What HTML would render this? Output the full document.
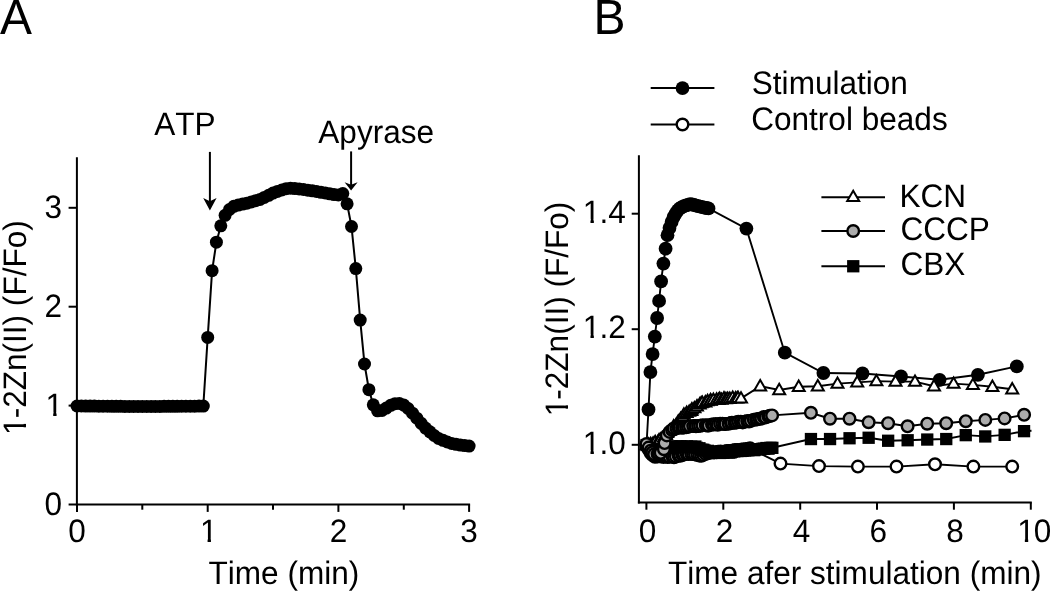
<!DOCTYPE html>
<html lang="en"><head><meta charset="utf-8"><title>Figure</title>
<style>html,body{margin:0;padding:0;background:#fff}body{width:1050px;height:591px;overflow:hidden}svg{display:block}text{font-family:"Liberation Sans",sans-serif;fill:#000;font-kerning:none;text-rendering:geometricPrecision}</style>
</head><body>
<svg width="1050" height="591" viewBox="0 0 1050 591" role="img" aria-label="Two-panel line chart of 1-2Zn(II) fluorescence">
<rect width="1050" height="591" fill="#fff"/>
<!-- Panel A -->
<g transform="translate(0,33.8) scale(0.971,1)"><text x="0.00" y="0" font-size="49.4">A</text>
</g>
<line x1="76.9" y1="157.3" x2="76.9" y2="505.5" stroke="#000" stroke-width="2"/>
<line x1="75.9" y1="504.5" x2="470.1" y2="504.5" stroke="#000" stroke-width="2"/>
<line x1="77" y1="504.5" x2="77" y2="511.9" stroke="#000" stroke-width="2"/>
<g transform="translate(77,542) scale(0.971,1)"><text x="-9.04" y="0" font-size="32.5">0</text>
</g>
<line x1="68.6" y1="504.5" x2="76.9" y2="504.5" stroke="#000" stroke-width="2"/>
<g transform="translate(62.1,514.8) scale(0.971,1)"><text x="-18.07" y="0" font-size="32.5">0</text>
</g>
<line x1="207.7" y1="504.5" x2="207.7" y2="511.9" stroke="#000" stroke-width="2"/>
<g transform="translate(207.7,542) scale(0.971,1)"><text x="-9.04" y="0" font-size="32.5" dx="1.03">1</text>
<rect x="-7.21" y="-3.73" width="7.08" height="4.93" fill="#fff"/>
<rect x="3.34" y="-3.73" width="6.81" height="4.93" fill="#fff"/>
</g>
<line x1="68.6" y1="405.6" x2="76.9" y2="405.6" stroke="#000" stroke-width="2"/>
<g transform="translate(62.1,415.9) scale(0.971,1)"><text x="-18.07" y="0" font-size="32.5" dx="1.03">1</text>
<rect x="-16.25" y="-3.73" width="7.08" height="4.93" fill="#fff"/>
<rect x="-5.70" y="-3.73" width="6.81" height="4.93" fill="#fff"/>
</g>
<line x1="338.4" y1="504.5" x2="338.4" y2="511.9" stroke="#000" stroke-width="2"/>
<g transform="translate(338.4,542) scale(0.971,1)"><text x="-9.04" y="0" font-size="32.5">2</text>
</g>
<line x1="68.6" y1="306.7" x2="76.9" y2="306.7" stroke="#000" stroke-width="2"/>
<g transform="translate(62.1,317) scale(0.971,1)"><text x="-18.07" y="0" font-size="32.5">2</text>
</g>
<line x1="469.1" y1="504.5" x2="469.1" y2="511.9" stroke="#000" stroke-width="2"/>
<g transform="translate(469.1,542) scale(0.971,1)"><text x="-9.04" y="0" font-size="32.5">3</text>
</g>
<line x1="68.6" y1="207.8" x2="76.9" y2="207.8" stroke="#000" stroke-width="2"/>
<g transform="translate(62.1,218.1) scale(0.971,1)"><text x="-18.07" y="0" font-size="32.5">3</text>
</g>
<line x1="142.3" y1="504.5" x2="142.3" y2="509.7" stroke="#000" stroke-width="2"/>
<line x1="273" y1="504.5" x2="273" y2="509.7" stroke="#000" stroke-width="2"/>
<line x1="403.8" y1="504.5" x2="403.8" y2="509.7" stroke="#000" stroke-width="2"/>
<g transform="translate(208.5,583.6) scale(0.971,1)"><text x="0.00" y="0" font-size="32.5">Time (min)</text>
</g>
<g transform="translate(26,328.1) rotate(-90) scale(0.971,1)"><text x="-111.04" y="0" font-size="32.5" dx="1.03 -1.03 0 0 0 0 0 0 0 0 0 0 0 0 0 0">1-2Zn(II) (F/Fo)</text>
<rect x="-109.22" y="-3.73" width="7.08" height="4.93" fill="#fff"/>
<rect x="-98.67" y="-3.73" width="6.81" height="4.93" fill="#fff"/>
</g>
<g transform="translate(154.2,135) scale(0.971,1)"><text x="0.00" y="0" font-size="32.5">ATP</text>
</g>
<g transform="translate(318.3,142.6) scale(0.971,1)"><text x="0.00" y="0" font-size="32.5">Apyrase</text>
</g>
<line x1="209.9" y1="151.9" x2="209.9" y2="201.7" stroke="#000" stroke-width="2"/>
<polygon fill="#000" points="209.9,210.6 203.2,198 209.9,201.2 216.6,198"/>
<line x1="351.1" y1="151.4" x2="351.1" y2="185.2" stroke="#000" stroke-width="2"/>
<polygon fill="#000" points="351.1,190.5 344.6,182.2 351.1,184.7 357.6,182.2"/>
<polyline fill="none" stroke="#000" stroke-width="2" points="77,406 81.4,406 85.7,406.1 90.1,406.1 94.4,406.1 98.8,406.2 103.1,406.2 107.5,406.2 111.9,406.3 116.2,406.3 120.6,406.3 124.9,406.4 129.3,406.4 133.6,406.4 138,406.5 142.3,406.5 146.7,406.5 151.1,406.4 155.4,406.4 159.8,406.4 164.1,406.3 168.5,406.3 172.8,406.3 177.2,406.3 181.6,406.2 185.9,406.2 190.3,406.2 194.6,406.2 199,406.1 203.3,406.1 207.7,337.4 212.1,270.7 216.4,242.2 220.8,225.8 225.1,215.3 229.5,209.5 233.8,206.3 238.2,205.1 242.6,204.1 246.9,203.2 251.3,201.9 255.6,200.7 260,199.4 264.3,197.4 268.7,195.3 273,193.1 277.4,191.4 281.8,190 286.1,188.7 290.5,188.2 294.8,188.6 299.2,189 303.5,189.5 307.9,190.2 312.3,190.8 316.6,191.5 321,192.3 325.3,193 329.7,193.8 334,194.6 338.4,195 342.8,193.5 347.1,203.8 351.5,226.5 355.8,268.6 360.2,320.1 364.5,364 368.9,389.7 373.3,404.8 377.6,410.8 382,410.4 386.3,408.1 390.7,405.3 395,403.7 399.4,403.5 403.8,405.1 408.1,408.5 412.5,413.2 416.8,418.2 421.2,423.3 425.5,428.1 429.9,431.8 434.2,435.5 438.6,438.5 443,440.3 447.3,442 451.7,443.5 456,444.3 460.4,445.1 464.7,445.6 469.1,446.1"/>
<g fill="#000">
<circle cx="77" cy="406" r="6.5"/>
<circle cx="81.4" cy="406" r="6.5"/>
<circle cx="85.7" cy="406.1" r="6.5"/>
<circle cx="90.1" cy="406.1" r="6.5"/>
<circle cx="94.4" cy="406.1" r="6.5"/>
<circle cx="98.8" cy="406.2" r="6.5"/>
<circle cx="103.1" cy="406.2" r="6.5"/>
<circle cx="107.5" cy="406.2" r="6.5"/>
<circle cx="111.9" cy="406.3" r="6.5"/>
<circle cx="116.2" cy="406.3" r="6.5"/>
<circle cx="120.6" cy="406.3" r="6.5"/>
<circle cx="124.9" cy="406.4" r="6.5"/>
<circle cx="129.3" cy="406.4" r="6.5"/>
<circle cx="133.6" cy="406.4" r="6.5"/>
<circle cx="138" cy="406.5" r="6.5"/>
<circle cx="142.3" cy="406.5" r="6.5"/>
<circle cx="146.7" cy="406.5" r="6.5"/>
<circle cx="151.1" cy="406.4" r="6.5"/>
<circle cx="155.4" cy="406.4" r="6.5"/>
<circle cx="159.8" cy="406.4" r="6.5"/>
<circle cx="164.1" cy="406.3" r="6.5"/>
<circle cx="168.5" cy="406.3" r="6.5"/>
<circle cx="172.8" cy="406.3" r="6.5"/>
<circle cx="177.2" cy="406.3" r="6.5"/>
<circle cx="181.6" cy="406.2" r="6.5"/>
<circle cx="185.9" cy="406.2" r="6.5"/>
<circle cx="190.3" cy="406.2" r="6.5"/>
<circle cx="194.6" cy="406.2" r="6.5"/>
<circle cx="199" cy="406.1" r="6.5"/>
<circle cx="203.3" cy="406.1" r="6.5"/>
<circle cx="207.7" cy="337.4" r="6.5"/>
<circle cx="212.1" cy="270.7" r="6.5"/>
<circle cx="216.4" cy="242.2" r="6.5"/>
<circle cx="220.8" cy="225.8" r="6.5"/>
<circle cx="225.1" cy="215.3" r="6.5"/>
<circle cx="229.5" cy="209.5" r="6.5"/>
<circle cx="233.8" cy="206.3" r="6.5"/>
<circle cx="238.2" cy="205.1" r="6.5"/>
<circle cx="242.6" cy="204.1" r="6.5"/>
<circle cx="246.9" cy="203.2" r="6.5"/>
<circle cx="251.3" cy="201.9" r="6.5"/>
<circle cx="255.6" cy="200.7" r="6.5"/>
<circle cx="260" cy="199.4" r="6.5"/>
<circle cx="264.3" cy="197.4" r="6.5"/>
<circle cx="268.7" cy="195.3" r="6.5"/>
<circle cx="273" cy="193.1" r="6.5"/>
<circle cx="277.4" cy="191.4" r="6.5"/>
<circle cx="281.8" cy="190" r="6.5"/>
<circle cx="286.1" cy="188.7" r="6.5"/>
<circle cx="290.5" cy="188.2" r="6.5"/>
<circle cx="294.8" cy="188.6" r="6.5"/>
<circle cx="299.2" cy="189" r="6.5"/>
<circle cx="303.5" cy="189.5" r="6.5"/>
<circle cx="307.9" cy="190.2" r="6.5"/>
<circle cx="312.3" cy="190.8" r="6.5"/>
<circle cx="316.6" cy="191.5" r="6.5"/>
<circle cx="321" cy="192.3" r="6.5"/>
<circle cx="325.3" cy="193" r="6.5"/>
<circle cx="329.7" cy="193.8" r="6.5"/>
<circle cx="334" cy="194.6" r="6.5"/>
<circle cx="338.4" cy="195" r="6.5"/>
<circle cx="342.8" cy="193.5" r="6.5"/>
<circle cx="347.1" cy="203.8" r="6.5"/>
<circle cx="351.5" cy="226.5" r="6.5"/>
<circle cx="355.8" cy="268.6" r="6.5"/>
<circle cx="360.2" cy="320.1" r="6.5"/>
<circle cx="364.5" cy="364" r="6.5"/>
<circle cx="368.9" cy="389.7" r="6.5"/>
<circle cx="373.3" cy="404.8" r="6.5"/>
<circle cx="377.6" cy="410.8" r="6.5"/>
<circle cx="382" cy="410.4" r="6.5"/>
<circle cx="386.3" cy="408.1" r="6.5"/>
<circle cx="390.7" cy="405.3" r="6.5"/>
<circle cx="395" cy="403.7" r="6.5"/>
<circle cx="399.4" cy="403.5" r="6.5"/>
<circle cx="403.8" cy="405.1" r="6.5"/>
<circle cx="408.1" cy="408.5" r="6.5"/>
<circle cx="412.5" cy="413.2" r="6.5"/>
<circle cx="416.8" cy="418.2" r="6.5"/>
<circle cx="421.2" cy="423.3" r="6.5"/>
<circle cx="425.5" cy="428.1" r="6.5"/>
<circle cx="429.9" cy="431.8" r="6.5"/>
<circle cx="434.2" cy="435.5" r="6.5"/>
<circle cx="438.6" cy="438.5" r="6.5"/>
<circle cx="443" cy="440.3" r="6.5"/>
<circle cx="447.3" cy="442" r="6.5"/>
<circle cx="451.7" cy="443.5" r="6.5"/>
<circle cx="456" cy="444.3" r="6.5"/>
<circle cx="460.4" cy="445.1" r="6.5"/>
<circle cx="464.7" cy="445.6" r="6.5"/>
<circle cx="469.1" cy="446.1" r="6.5"/>
</g>
<!-- Panel B -->
<g transform="translate(593.5,33.8) scale(0.971,1)"><text x="0.00" y="0" font-size="49.4">B</text>
</g>
<line x1="638.9" y1="155.3" x2="638.9" y2="503.4" stroke="#000" stroke-width="2"/>
<line x1="637.9" y1="502.4" x2="1031.8" y2="502.4" stroke="#000" stroke-width="2"/>
<line x1="646.4" y1="502.4" x2="646.4" y2="509.7" stroke="#000" stroke-width="2"/>
<g transform="translate(647.6,541.8) scale(0.971,1)"><text x="-9.04" y="0" font-size="32.5">0</text>
</g>
<line x1="723.3" y1="502.4" x2="723.3" y2="509.7" stroke="#000" stroke-width="2"/>
<g transform="translate(724.5,541.8) scale(0.971,1)"><text x="-9.04" y="0" font-size="32.5">2</text>
</g>
<line x1="800.2" y1="502.4" x2="800.2" y2="509.7" stroke="#000" stroke-width="2"/>
<g transform="translate(801.4,541.8) scale(0.971,1)"><text x="-9.04" y="0" font-size="32.5">4</text>
</g>
<line x1="877" y1="502.4" x2="877" y2="509.7" stroke="#000" stroke-width="2"/>
<g transform="translate(878.2,541.8) scale(0.971,1)"><text x="-9.04" y="0" font-size="32.5">6</text>
</g>
<line x1="953.9" y1="502.4" x2="953.9" y2="509.7" stroke="#000" stroke-width="2"/>
<g transform="translate(955.1,541.8) scale(0.971,1)"><text x="-9.04" y="0" font-size="32.5">8</text>
</g>
<line x1="1030.8" y1="502.4" x2="1030.8" y2="509.7" stroke="#000" stroke-width="2"/>
<g transform="translate(1016.2,541.8) scale(0.971,1)"><text x="0.00" y="0" font-size="32.5" dx="1.03 -1.03">10</text>
<rect x="1.82" y="-3.73" width="7.08" height="4.93" fill="#fff"/>
<rect x="12.37" y="-3.73" width="6.81" height="4.93" fill="#fff"/>
</g>
<line x1="631.7" y1="444.8" x2="638.9" y2="444.8" stroke="#000" stroke-width="2"/>
<g transform="translate(625.7,453.7) scale(0.971,1)"><text x="-45.18" y="0" font-size="32.5" dx="1.03 -1.03 0">1.0</text>
<rect x="-43.36" y="-3.73" width="7.08" height="4.93" fill="#fff"/>
<rect x="-32.80" y="-3.73" width="6.81" height="4.93" fill="#fff"/>
</g>
<line x1="631.7" y1="329.2" x2="638.9" y2="329.2" stroke="#000" stroke-width="2"/>
<g transform="translate(625.7,338.1) scale(0.971,1)"><text x="-45.18" y="0" font-size="32.5" dx="1.03 -1.03 0">1.2</text>
<rect x="-43.36" y="-3.73" width="7.08" height="4.93" fill="#fff"/>
<rect x="-32.80" y="-3.73" width="6.81" height="4.93" fill="#fff"/>
</g>
<line x1="631.7" y1="213.7" x2="638.9" y2="213.7" stroke="#000" stroke-width="2"/>
<g transform="translate(625.7,222.6) scale(0.971,1)"><text x="-45.18" y="0" font-size="32.5" dx="1.03 -1.03 0">1.4</text>
<rect x="-43.36" y="-3.73" width="7.08" height="4.93" fill="#fff"/>
<rect x="-32.80" y="-3.73" width="6.81" height="4.93" fill="#fff"/>
</g>
<g transform="translate(668,584.3) scale(0.971,1)"><text x="0.00" y="0" font-size="32.5">Time afer stimulation (min)</text>
</g>
<g transform="translate(568.3,309.5) rotate(-90) scale(0.971,1)"><text x="-111.04" y="0" font-size="32.5" dx="1.03 -1.03 0 0 0 0 0 0 0 0 0 0 0 0 0 0">1-2Zn(II) (F/Fo)</text>
<rect x="-109.22" y="-3.73" width="7.08" height="4.93" fill="#fff"/>
<rect x="-98.67" y="-3.73" width="6.81" height="4.93" fill="#fff"/>
</g>
<line x1="650.7" y1="88.1" x2="714.4" y2="88.1" stroke="#000" stroke-width="2"/>
<g fill="#000">
<circle cx="682.5" cy="88.1" r="6.9"/>
</g>
<g transform="translate(751.8,94.3) scale(0.971,1)"><text x="0.00" y="0" font-size="32.5">Stimulation</text>
</g>
<line x1="650.7" y1="124.5" x2="714.4" y2="124.5" stroke="#000" stroke-width="2"/>
<g fill="#fff" stroke="#000" stroke-width="2.4">
<circle cx="682.5" cy="124.5" r="5.8"/>
</g>
<g transform="translate(751.2,130) scale(0.971,1)"><text x="0.00" y="0" font-size="32.5">Control beads</text>
</g>
<line x1="821.4" y1="197.3" x2="885" y2="197.3" stroke="#000" stroke-width="2"/>
<g fill="#fff" stroke="#000" stroke-width="2" stroke-linejoin="miter">
<polygon points="853.2,190.7 847.2,201.1 859.2,201.1"/>
</g>
<g transform="translate(899.5,206.6) scale(0.971,1)"><text x="0.00" y="0" font-size="32.5">KCN</text>
</g>
<line x1="821.4" y1="231" x2="885" y2="231" stroke="#000" stroke-width="2"/>
<g fill="#ababab" stroke="#000" stroke-width="2.4">
<circle cx="853.2" cy="231" r="5.8"/>
</g>
<g transform="translate(900.5,240) scale(0.971,1)"><text x="0.00" y="0" font-size="32.5">CCCP</text>
</g>
<line x1="821.4" y1="266.2" x2="885" y2="266.2" stroke="#000" stroke-width="2"/>
<g fill="#000">
<rect x="847.1" y="260.1" width="12.3" height="12.3"/>
</g>
<g transform="translate(900.5,275.4) scale(0.971,1)"><text x="0.00" y="0" font-size="32.5">CBX</text>
</g>
<g transform="translate(0,0.5)">
<!-- control beads -->
<polyline fill="none" stroke="#000" stroke-width="1.9" points="646.5,444.5 648.6,449 650.7,452.6 652.5,454.5 654.9,456.2 657.4,456.1 659.2,455.6 661.1,456.1 663.5,456.4 665.4,455.7 667.5,456.6 669.5,456.2 672.2,455.8 674,456.7 675.9,456.1 678.5,455.1 680.3,455.2 682.5,454.4 684.3,453.9 686.5,453.3 688.6,453.5 691.1,453.3 693,453.5 695,453.9 697.3,454.3 699.3,455 701.3,455.3 703.3,454.4 705.6,453.4 707.9,452.8 709.8,451.5 711.7,452.1 714.1,451.9 716.6,451.7 718,451.2 720.5,451 722.9,451.5 724.9,450.9 727,450.4 728.7,450.5 731.2,450.4 732.8,449.9 735.1,449.6 737.1,449.4 739.4,449.5 741.8,449 743.6,448.9 746.1,448.5 748.1,448.5 750,447.8 780.5,463.1 819,465.6 857.9,466.1 896.5,466.1 935,463.8 973.4,466.1 1012.2,466.1"/>
<g fill="#fff" stroke="#000" stroke-width="2.4">
<circle cx="646.5" cy="444.5" r="5.8"/>
<circle cx="648.6" cy="449" r="5.8"/>
<circle cx="650.7" cy="452.6" r="5.8"/>
<circle cx="652.5" cy="454.5" r="5.8"/>
<circle cx="654.9" cy="456.2" r="5.8"/>
<circle cx="657.4" cy="456.1" r="5.8"/>
<circle cx="659.2" cy="455.6" r="5.8"/>
<circle cx="661.1" cy="456.1" r="5.8"/>
<circle cx="663.5" cy="456.4" r="5.8"/>
<circle cx="665.4" cy="455.7" r="5.8"/>
<circle cx="667.5" cy="456.6" r="5.8"/>
<circle cx="669.5" cy="456.2" r="5.8"/>
<circle cx="672.2" cy="455.8" r="5.8"/>
<circle cx="674" cy="456.7" r="5.8"/>
<circle cx="675.9" cy="456.1" r="5.8"/>
<circle cx="678.5" cy="455.1" r="5.8"/>
<circle cx="680.3" cy="455.2" r="5.8"/>
<circle cx="682.5" cy="454.4" r="5.8"/>
<circle cx="684.3" cy="453.9" r="5.8"/>
<circle cx="686.5" cy="453.3" r="5.8"/>
<circle cx="688.6" cy="453.5" r="5.8"/>
<circle cx="691.1" cy="453.3" r="5.8"/>
<circle cx="693" cy="453.5" r="5.8"/>
<circle cx="695" cy="453.9" r="5.8"/>
<circle cx="697.3" cy="454.3" r="5.8"/>
<circle cx="699.3" cy="455" r="5.8"/>
<circle cx="701.3" cy="455.3" r="5.8"/>
<circle cx="703.3" cy="454.4" r="5.8"/>
<circle cx="705.6" cy="453.4" r="5.8"/>
<circle cx="707.9" cy="452.8" r="5.8"/>
<circle cx="709.8" cy="451.5" r="5.8"/>
<circle cx="711.7" cy="452.1" r="5.8"/>
<circle cx="714.1" cy="451.9" r="5.8"/>
<circle cx="716.6" cy="451.7" r="5.8"/>
<circle cx="718" cy="451.2" r="5.8"/>
<circle cx="720.5" cy="451" r="5.8"/>
<circle cx="722.9" cy="451.5" r="5.8"/>
<circle cx="724.9" cy="450.9" r="5.8"/>
<circle cx="727" cy="450.4" r="5.8"/>
<circle cx="728.7" cy="450.5" r="5.8"/>
<circle cx="731.2" cy="450.4" r="5.8"/>
<circle cx="732.8" cy="449.9" r="5.8"/>
<circle cx="735.1" cy="449.6" r="5.8"/>
<circle cx="737.1" cy="449.4" r="5.8"/>
<circle cx="739.4" cy="449.5" r="5.8"/>
<circle cx="741.8" cy="449" r="5.8"/>
<circle cx="743.6" cy="448.9" r="5.8"/>
<circle cx="746.1" cy="448.5" r="5.8"/>
<circle cx="748.1" cy="448.5" r="5.8"/>
<circle cx="750" cy="447.8" r="5.8"/>
<circle cx="780.5" cy="463.1" r="5.8"/>
<circle cx="819" cy="465.6" r="5.8"/>
<circle cx="857.9" cy="466.1" r="5.8"/>
<circle cx="896.5" cy="466.1" r="5.8"/>
<circle cx="935" cy="463.8" r="5.8"/>
<circle cx="973.4" cy="466.1" r="5.8"/>
<circle cx="1012.2" cy="466.1" r="5.8"/>
</g>
<!-- CBX -->
<polyline fill="none" stroke="#000" stroke-width="1.9" points="646.5,444.5 648.6,445.5 650.7,446.4 652.1,447.4 654.6,447 657.4,447.2 658.6,447.2 660.5,446.8 663.8,446.8 665.5,447 668,446.9 668.8,446.5 671.6,446 673.8,446.5 676.4,446.7 677.4,445.9 680.3,445.9 681.8,446.3 683.8,446.6 686.9,445.8 688.5,446.6 691.3,446.1 692.2,446.7 695.4,446.1 696.8,447.4 699.5,447.7 701.3,449.2 703.2,449.3 704.6,450 707.8,450.4 708.7,451.3 710.9,451.4 712.9,452 716,452.1 717.3,452 720.1,452.5 722.8,451.7 723.4,452.2 726.9,451.7 728.7,452 730.6,451.9 731.8,451.2 734.3,450.8 737.3,450.5 739.1,450.3 740.7,450.5 742.5,450.4 745.2,450 747.6,449.6 748.9,449.6 751.2,449.2 754.1,449.6 755,448.9 757.3,448.8 759.5,448.6 762.5,448.3 764.2,448.3 766.5,447.5 768.6,448.2 770.5,447.3 772.4,447.3 810.9,438.5 830,438.5 849.5,437.7 868.6,437.2 888.1,440.2 907.6,439.7 927.2,439 946.2,438.5 965.8,434.6 985.3,435.9 1004.6,434.4 1024.1,430.6 1031.5,430.2"/>
<g fill="#000">
<rect x="640.4" y="438.4" width="12.3" height="12.3"/>
<rect x="642.4" y="439.3" width="12.3" height="12.3"/>
<rect x="644.5" y="440.3" width="12.3" height="12.3"/>
<rect x="646" y="441.2" width="12.3" height="12.3"/>
<rect x="648.4" y="440.8" width="12.3" height="12.3"/>
<rect x="651.3" y="441.1" width="12.3" height="12.3"/>
<rect x="652.4" y="441" width="12.3" height="12.3"/>
<rect x="654.4" y="440.7" width="12.3" height="12.3"/>
<rect x="657.6" y="440.6" width="12.3" height="12.3"/>
<rect x="659.4" y="440.8" width="12.3" height="12.3"/>
<rect x="661.8" y="440.8" width="12.3" height="12.3"/>
<rect x="662.7" y="440.3" width="12.3" height="12.3"/>
<rect x="665.5" y="439.9" width="12.3" height="12.3"/>
<rect x="667.7" y="440.3" width="12.3" height="12.3"/>
<rect x="670.2" y="440.6" width="12.3" height="12.3"/>
<rect x="671.3" y="439.8" width="12.3" height="12.3"/>
<rect x="674.2" y="439.7" width="12.3" height="12.3"/>
<rect x="675.6" y="440.2" width="12.3" height="12.3"/>
<rect x="677.6" y="440.4" width="12.3" height="12.3"/>
<rect x="680.8" y="439.7" width="12.3" height="12.3"/>
<rect x="682.4" y="440.5" width="12.3" height="12.3"/>
<rect x="685.1" y="440" width="12.3" height="12.3"/>
<rect x="686" y="440.6" width="12.3" height="12.3"/>
<rect x="689.2" y="439.9" width="12.3" height="12.3"/>
<rect x="690.6" y="441.2" width="12.3" height="12.3"/>
<rect x="693.3" y="441.6" width="12.3" height="12.3"/>
<rect x="695.2" y="443.1" width="12.3" height="12.3"/>
<rect x="697.1" y="443.1" width="12.3" height="12.3"/>
<rect x="698.4" y="443.9" width="12.3" height="12.3"/>
<rect x="701.7" y="444.2" width="12.3" height="12.3"/>
<rect x="702.6" y="445.2" width="12.3" height="12.3"/>
<rect x="704.7" y="445.2" width="12.3" height="12.3"/>
<rect x="706.8" y="445.8" width="12.3" height="12.3"/>
<rect x="709.9" y="445.9" width="12.3" height="12.3"/>
<rect x="711.1" y="445.8" width="12.3" height="12.3"/>
<rect x="713.9" y="446.3" width="12.3" height="12.3"/>
<rect x="716.6" y="445.5" width="12.3" height="12.3"/>
<rect x="717.3" y="446" width="12.3" height="12.3"/>
<rect x="720.7" y="445.5" width="12.3" height="12.3"/>
<rect x="722.6" y="445.9" width="12.3" height="12.3"/>
<rect x="724.4" y="445.8" width="12.3" height="12.3"/>
<rect x="725.7" y="445" width="12.3" height="12.3"/>
<rect x="728.1" y="444.7" width="12.3" height="12.3"/>
<rect x="731.2" y="444.4" width="12.3" height="12.3"/>
<rect x="732.9" y="444.2" width="12.3" height="12.3"/>
<rect x="734.6" y="444.3" width="12.3" height="12.3"/>
<rect x="736.4" y="444.2" width="12.3" height="12.3"/>
<rect x="739" y="443.8" width="12.3" height="12.3"/>
<rect x="741.4" y="443.5" width="12.3" height="12.3"/>
<rect x="742.7" y="443.4" width="12.3" height="12.3"/>
<rect x="745.1" y="443.1" width="12.3" height="12.3"/>
<rect x="748" y="443.5" width="12.3" height="12.3"/>
<rect x="748.9" y="442.8" width="12.3" height="12.3"/>
<rect x="751.2" y="442.6" width="12.3" height="12.3"/>
<rect x="753.3" y="442.5" width="12.3" height="12.3"/>
<rect x="756.4" y="442.1" width="12.3" height="12.3"/>
<rect x="758.1" y="442.1" width="12.3" height="12.3"/>
<rect x="760.3" y="441.4" width="12.3" height="12.3"/>
<rect x="762.4" y="442" width="12.3" height="12.3"/>
<rect x="764.3" y="441.2" width="12.3" height="12.3"/>
<rect x="766.2" y="441.2" width="12.3" height="12.3"/>
<rect x="804.8" y="432.4" width="12.3" height="12.3"/>
<rect x="823.9" y="432.4" width="12.3" height="12.3"/>
<rect x="843.4" y="431.6" width="12.3" height="12.3"/>
<rect x="862.5" y="431.1" width="12.3" height="12.3"/>
<rect x="882" y="434.1" width="12.3" height="12.3"/>
<rect x="901.5" y="433.6" width="12.3" height="12.3"/>
<rect x="921.1" y="432.9" width="12.3" height="12.3"/>
<rect x="940.1" y="432.4" width="12.3" height="12.3"/>
<rect x="959.6" y="428.5" width="12.3" height="12.3"/>
<rect x="979.1" y="429.8" width="12.3" height="12.3"/>
<rect x="998.5" y="428.2" width="12.3" height="12.3"/>
<rect x="1017.9" y="424.5" width="12.3" height="12.3"/>
</g>
<!-- stimulation -->
<polyline fill="none" stroke="#000" stroke-width="1.9" points="646.5,444.5 648.5,409 650.4,371.6 652.6,353.6 654.8,336.1 657.1,317.5 659.1,300.4 661.1,280.9 663.4,263.1 665.6,248.2 667.5,234.7 669.5,227.5 671.6,221.4 673.6,216.5 675.7,213 677.8,209.8 679.8,207.8 681.9,206.7 683.9,205.7 686,204.8 688,204.3 690,203.7 692.1,203.9 694.1,204.5 696.2,205.1 698.2,205.7 700.3,206.2 702.4,206.7 704.4,207.1 706.5,207.5 708.5,207.9 746.4,228.1 784.8,352.2 823.4,372.5 862.5,373 901,376 939.6,379.3 977.9,374.3 1016.8,365.9"/>
<g fill="#000">
<circle cx="646.5" cy="444.5" r="6.9"/>
<circle cx="648.5" cy="409" r="6.9"/>
<circle cx="650.4" cy="371.6" r="6.9"/>
<circle cx="652.6" cy="353.6" r="6.9"/>
<circle cx="654.8" cy="336.1" r="6.9"/>
<circle cx="657.1" cy="317.5" r="6.9"/>
<circle cx="659.1" cy="300.4" r="6.9"/>
<circle cx="661.1" cy="280.9" r="6.9"/>
<circle cx="663.4" cy="263.1" r="6.9"/>
<circle cx="665.6" cy="248.2" r="6.9"/>
<circle cx="667.5" cy="234.7" r="6.9"/>
<circle cx="669.5" cy="227.5" r="6.9"/>
<circle cx="671.6" cy="221.4" r="6.9"/>
<circle cx="673.6" cy="216.5" r="6.9"/>
<circle cx="675.7" cy="213" r="6.9"/>
<circle cx="677.8" cy="209.8" r="6.9"/>
<circle cx="679.8" cy="207.8" r="6.9"/>
<circle cx="681.9" cy="206.7" r="6.9"/>
<circle cx="683.9" cy="205.7" r="6.9"/>
<circle cx="686" cy="204.8" r="6.9"/>
<circle cx="688" cy="204.3" r="6.9"/>
<circle cx="690" cy="203.7" r="6.9"/>
<circle cx="692.1" cy="203.9" r="6.9"/>
<circle cx="694.1" cy="204.5" r="6.9"/>
<circle cx="696.2" cy="205.1" r="6.9"/>
<circle cx="698.2" cy="205.7" r="6.9"/>
<circle cx="700.3" cy="206.2" r="6.9"/>
<circle cx="702.4" cy="206.7" r="6.9"/>
<circle cx="704.4" cy="207.1" r="6.9"/>
<circle cx="706.5" cy="207.5" r="6.9"/>
<circle cx="708.5" cy="207.9" r="6.9"/>
<circle cx="746.4" cy="228.1" r="6.9"/>
<circle cx="784.8" cy="352.2" r="6.9"/>
<circle cx="823.4" cy="372.5" r="6.9"/>
<circle cx="862.5" cy="373" r="6.9"/>
<circle cx="901" cy="376" r="6.9"/>
<circle cx="939.6" cy="379.3" r="6.9"/>
<circle cx="977.9" cy="374.3" r="6.9"/>
<circle cx="1016.8" cy="365.9" r="6.9"/>
</g>
<!-- KCN -->
<polyline fill="none" stroke="#000" stroke-width="1.9" points="646.5,444.5 648.6,443.9 650.7,443.4 653.1,443 655.2,441.5 657.9,441.4 658.9,439.9 660.3,439 663.9,436.7 665.9,434.3 667.1,432.4 669.8,430.1 672.5,428.4 673.7,425.8 676.3,424.1 678.3,420.9 680.7,418.3 682.9,416.4 683.9,414 686.7,412.2 689.2,411.1 691.4,410.3 691.9,408.8 694.4,407.6 697,405.7 699.8,403.8 701.2,402.6 702.3,402.1 705.4,401.7 707.6,400.5 710.5,399.7 710.7,400 713.4,399.3 716.6,399 718.7,399.2 719.7,398.2 721.6,399.1 724,397.8 725.9,398.5 727.7,398.1 729.8,398.2 732.7,397.1 735.6,397.6 737.3,397.8 738.1,397.4 741,397.9 760.2,385.7 779.2,389.5 798.7,386.2 817.8,385.7 837.5,383.1 857.2,381.9 876.4,380.6 895.5,381.1 915,381.1 934,385.7 953.6,383.1 972.9,384.4 992.4,386.2 1012.2,388.7"/>
<g fill="#fff" stroke="#000" stroke-width="2" stroke-linejoin="miter">
<polygon points="646.5,438.3 640.5,448.7 652.5,448.7"/>
<polygon points="648.6,437.7 642.6,448.1 654.6,448.1"/>
<polygon points="650.7,437.2 644.8,447.6 656.7,447.6"/>
<polygon points="653.1,436.8 647.2,447.2 659.1,447.2"/>
<polygon points="655.2,435.3 649.3,445.7 661.2,445.7"/>
<polygon points="657.9,435.2 652,445.6 663.9,445.6"/>
<polygon points="658.9,433.7 653,444.1 664.9,444.1"/>
<polygon points="660.3,432.8 654.3,443.2 666.2,443.2"/>
<polygon points="663.9,430.5 658,440.9 669.9,440.9"/>
<polygon points="665.9,428.1 660,438.5 671.9,438.5"/>
<polygon points="667.1,426.2 661.2,436.6 673.1,436.6"/>
<polygon points="669.8,423.9 663.8,434.3 675.7,434.3"/>
<polygon points="672.5,422.2 666.5,432.6 678.4,432.6"/>
<polygon points="673.7,419.6 667.7,430 679.6,430"/>
<polygon points="676.3,417.9 670.3,428.3 682.2,428.3"/>
<polygon points="678.3,414.7 672.3,425.1 684.2,425.1"/>
<polygon points="680.7,412.1 674.7,422.5 686.6,422.5"/>
<polygon points="682.9,410.2 676.9,420.6 688.8,420.6"/>
<polygon points="683.9,407.8 677.9,418.2 689.8,418.2"/>
<polygon points="686.7,406 680.7,416.4 692.6,416.4"/>
<polygon points="689.2,404.9 683.2,415.3 695.1,415.3"/>
<polygon points="691.4,404.1 685.4,414.5 697.3,414.5"/>
<polygon points="691.9,402.6 685.9,413 697.8,413"/>
<polygon points="694.4,401.4 688.5,411.8 700.4,411.8"/>
<polygon points="697,399.5 691,409.9 702.9,409.9"/>
<polygon points="699.8,397.6 693.8,408 705.7,408"/>
<polygon points="701.2,396.4 695.3,406.8 707.2,406.8"/>
<polygon points="702.3,395.9 696.3,406.3 708.2,406.3"/>
<polygon points="705.4,395.5 699.5,405.9 711.4,405.9"/>
<polygon points="707.6,394.3 701.6,404.7 713.5,404.7"/>
<polygon points="710.5,393.5 704.5,403.9 716.4,403.9"/>
<polygon points="710.7,393.8 704.8,404.2 716.7,404.2"/>
<polygon points="713.4,393.1 707.5,403.5 719.4,403.5"/>
<polygon points="716.6,392.8 710.6,403.2 722.5,403.2"/>
<polygon points="718.7,393 712.7,403.4 724.6,403.4"/>
<polygon points="719.7,392 713.7,402.4 725.6,402.4"/>
<polygon points="721.6,392.9 715.6,403.3 727.5,403.3"/>
<polygon points="724,391.6 718.1,402 730,402"/>
<polygon points="725.9,392.3 719.9,402.7 731.8,402.7"/>
<polygon points="727.7,391.9 721.8,402.3 733.7,402.3"/>
<polygon points="729.8,392 723.8,402.4 735.7,402.4"/>
<polygon points="732.7,390.9 726.7,401.3 738.6,401.3"/>
<polygon points="735.6,391.4 729.6,401.8 741.5,401.8"/>
<polygon points="737.3,391.6 731.3,402 743.2,402"/>
<polygon points="738.1,391.2 732.1,401.6 744,401.6"/>
<polygon points="741,391.7 735,402.1 747,402.1"/>
<polygon points="760.2,379.5 754.2,389.9 766.2,389.9"/>
<polygon points="779.2,383.3 773.2,393.7 785.2,393.7"/>
<polygon points="798.7,380 792.8,390.4 804.7,390.4"/>
<polygon points="817.8,379.5 811.8,389.9 823.8,389.9"/>
<polygon points="837.5,376.9 831.5,387.3 843.5,387.3"/>
<polygon points="857.2,375.7 851.2,386.1 863.2,386.1"/>
<polygon points="876.4,374.4 870.4,384.8 882.4,384.8"/>
<polygon points="895.5,374.9 889.5,385.3 901.5,385.3"/>
<polygon points="915,374.9 909,385.3 921,385.3"/>
<polygon points="934,379.5 928,389.9 940,389.9"/>
<polygon points="953.6,376.9 947.6,387.3 959.6,387.3"/>
<polygon points="972.9,378.2 966.9,388.6 978.9,388.6"/>
<polygon points="992.4,380 986.4,390.4 998.4,390.4"/>
<polygon points="1012.2,382.5 1006.2,392.9 1018.2,392.9"/>
</g>
<!-- CCCP -->
<polyline fill="none" stroke="#000" stroke-width="1.9" points="646.5,443.5 648.6,447.1 650.7,450.2 652.3,451.9 654.2,453.8 657.6,453.6 659.1,453.2 660.7,452.3 663.9,448.7 664.6,442.6 666.8,434.9 669.6,431.4 672.1,429.5 673.6,428.1 676.4,427.9 678.2,426.8 679.7,427.1 682.1,427.3 683.8,426.9 686.1,426.8 687.9,426.2 689.9,425.7 693.2,425.6 695.2,425.6 696,425.7 698.2,425.6 700.2,425.3 702.5,424.8 705.8,424.8 707.4,425 708.7,425 712,424 713.6,424 715.9,423.6 717.7,424.3 720.1,423.3 722.4,423.3 724.4,423.4 725.5,423.5 728.6,423.3 730.9,422.6 731.9,422.3 734.5,422.3 736.3,422.1 738.3,421.3 740.7,421.3 742.7,421.9 744.4,421.2 747.2,420.5 749,421 750.9,420.2 753.8,419.3 756.1,419.1 757.4,418.7 759.4,418.2 761.3,418 763.8,416.6 765.7,416.9 768.4,415.9 769.8,415.3 772.1,414.9 810.9,412.3 830,418.2 849.5,418.2 868.6,421.7 888.1,422.7 907.6,425.8 927.2,423.2 946.2,422.7 965.8,420.7 985.3,419.4 1004.6,417.9 1024.1,414.3"/>
<g fill="#ababab" stroke="#000" stroke-width="2.4">
<circle cx="646.5" cy="443.5" r="5.8"/>
<circle cx="648.6" cy="447.1" r="5.8"/>
<circle cx="650.7" cy="450.2" r="5.8"/>
<circle cx="652.3" cy="451.9" r="5.8"/>
<circle cx="654.2" cy="453.8" r="5.8"/>
<circle cx="657.6" cy="453.6" r="5.8"/>
<circle cx="659.1" cy="453.2" r="5.8"/>
<circle cx="660.7" cy="452.3" r="5.8"/>
<circle cx="663.9" cy="448.7" r="5.8"/>
<circle cx="664.6" cy="442.6" r="5.8"/>
<circle cx="666.8" cy="434.9" r="5.8"/>
<circle cx="669.6" cy="431.4" r="5.8"/>
<circle cx="672.1" cy="429.5" r="5.8"/>
<circle cx="673.6" cy="428.1" r="5.8"/>
<circle cx="676.4" cy="427.9" r="5.8"/>
<circle cx="678.2" cy="426.8" r="5.8"/>
<circle cx="679.7" cy="427.1" r="5.8"/>
<circle cx="682.1" cy="427.3" r="5.8"/>
<circle cx="683.8" cy="426.9" r="5.8"/>
<circle cx="686.1" cy="426.8" r="5.8"/>
<circle cx="687.9" cy="426.2" r="5.8"/>
<circle cx="689.9" cy="425.7" r="5.8"/>
<circle cx="693.2" cy="425.6" r="5.8"/>
<circle cx="695.2" cy="425.6" r="5.8"/>
<circle cx="696" cy="425.7" r="5.8"/>
<circle cx="698.2" cy="425.6" r="5.8"/>
<circle cx="700.2" cy="425.3" r="5.8"/>
<circle cx="702.5" cy="424.8" r="5.8"/>
<circle cx="705.8" cy="424.8" r="5.8"/>
<circle cx="707.4" cy="425" r="5.8"/>
<circle cx="708.7" cy="425" r="5.8"/>
<circle cx="712" cy="424" r="5.8"/>
<circle cx="713.6" cy="424" r="5.8"/>
<circle cx="715.9" cy="423.6" r="5.8"/>
<circle cx="717.7" cy="424.3" r="5.8"/>
<circle cx="720.1" cy="423.3" r="5.8"/>
<circle cx="722.4" cy="423.3" r="5.8"/>
<circle cx="724.4" cy="423.4" r="5.8"/>
<circle cx="725.5" cy="423.5" r="5.8"/>
<circle cx="728.6" cy="423.3" r="5.8"/>
<circle cx="730.9" cy="422.6" r="5.8"/>
<circle cx="731.9" cy="422.3" r="5.8"/>
<circle cx="734.5" cy="422.3" r="5.8"/>
<circle cx="736.3" cy="422.1" r="5.8"/>
<circle cx="738.3" cy="421.3" r="5.8"/>
<circle cx="740.7" cy="421.3" r="5.8"/>
<circle cx="742.7" cy="421.9" r="5.8"/>
<circle cx="744.4" cy="421.2" r="5.8"/>
<circle cx="747.2" cy="420.5" r="5.8"/>
<circle cx="749" cy="421" r="5.8"/>
<circle cx="750.9" cy="420.2" r="5.8"/>
<circle cx="753.8" cy="419.3" r="5.8"/>
<circle cx="756.1" cy="419.1" r="5.8"/>
<circle cx="757.4" cy="418.7" r="5.8"/>
<circle cx="759.4" cy="418.2" r="5.8"/>
<circle cx="761.3" cy="418" r="5.8"/>
<circle cx="763.8" cy="416.6" r="5.8"/>
<circle cx="765.7" cy="416.9" r="5.8"/>
<circle cx="768.4" cy="415.9" r="5.8"/>
<circle cx="769.8" cy="415.3" r="5.8"/>
<circle cx="772.1" cy="414.9" r="5.8"/>
<circle cx="810.9" cy="412.3" r="5.8"/>
<circle cx="830" cy="418.2" r="5.8"/>
<circle cx="849.5" cy="418.2" r="5.8"/>
<circle cx="868.6" cy="421.7" r="5.8"/>
<circle cx="888.1" cy="422.7" r="5.8"/>
<circle cx="907.6" cy="425.8" r="5.8"/>
<circle cx="927.2" cy="423.2" r="5.8"/>
<circle cx="946.2" cy="422.7" r="5.8"/>
<circle cx="965.8" cy="420.7" r="5.8"/>
<circle cx="985.3" cy="419.4" r="5.8"/>
<circle cx="1004.6" cy="417.9" r="5.8"/>
<circle cx="1024.1" cy="414.3" r="5.8"/>
</g>
</g>
</svg></body></html>
